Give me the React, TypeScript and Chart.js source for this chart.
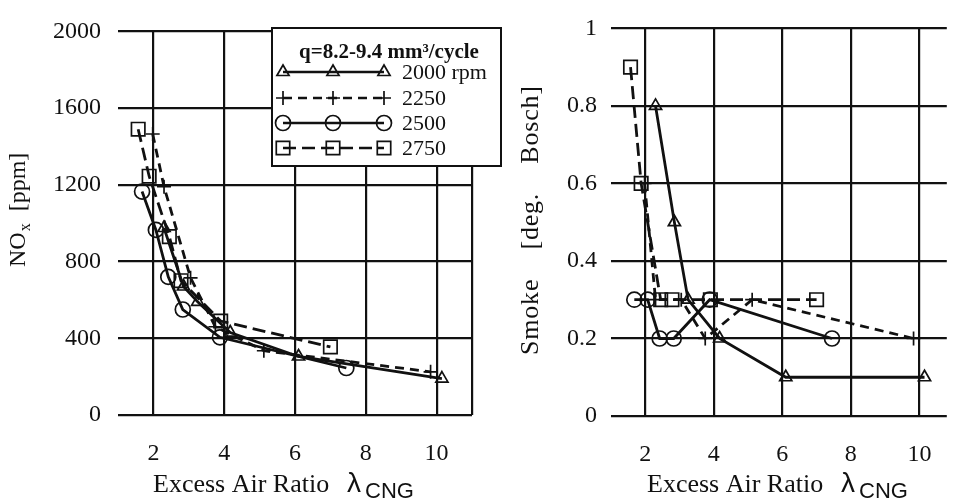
import React, { useEffect, useRef } from 'react';
import { Chart, registerables } from 'chart.js';

Chart.register(...registerables);

// ---------- data ----------
const xTickValues = [2, 4, 6, 8, 10];
const noxTickValues = [0, 400, 800, 1200, 1600, 2000];
const smokeTickValues = [0, 0.2, 0.4, 0.6, 0.8, 1];

const seriesLabels = ['2000 rpm', '2250', '2500', '2750'];
const legendTitle = 'q=8.2-9.4 mm³/cycle';
const xTitleMain = 'Excess Air Ratio';
const xTitleSymbol = 'λ';
const xTitleSub = 'CNG';
const noxTitleMain = 'NO';
const noxTitleSub = 'x';
const noxTitleUnit = '[ppm]';
const smokeTitle = 'Smoke    [deg.    Bosch]';

const lambda2000 = [2.3, 2.85, 3.25, 4.17, 6.1, 10.15];
const nox2000 = [975, 670, 590, 430, 305, 190];
const smoke2000 = [0.8, 0.5, 0.3, 0.2, 0.1, 0.1];

const lambda2250 = [1.98, 2.3, 3.05, 3.75, 5.12, 9.83];
const nox2250 = [1465, 1190, 715, 460, 335, 225];
const smoke2250 = [0.6, 0.3, 0.3, 0.2, 0.3, 0.2];

const lambda2500 = [1.68, 2.07, 2.42, 2.83, 3.88, 7.45];
const nox2500 = [1165, 965, 720, 550, 405, 245];
const smoke2500 = [0.3, 0.3, 0.2, 0.2, 0.3, 0.2];

const lambda2750 = [1.57, 1.88, 2.45, 2.78, 3.9, 7.0];
const nox2750 = [1490, 1245, 930, 700, 490, 355];
const smoke2750 = [0.9, 0.6, 0.3, 0.3, 0.3, 0.3];

const lambdas = [lambda2000, lambda2250, lambda2500, lambda2750];
const noxValues = [nox2000, nox2250, nox2500, nox2750];
const smokeValues = [smoke2000, smoke2250, smoke2500, smoke2750];

// ---------- styles ----------
const SERIF = '"Liberation Serif", "Times New Roman", serif';
const SANS = '"Liberation Sans", Arial, sans-serif';
const INK = '#111';

const seriesStyles = [
  { pointStyle: 'triangle', r: 7, dash: [] as number[] },
  { pointStyle: 'cross', r: 7, dash: [9, 6] },
  { pointStyle: 'circle', r: 7.5, dash: [] as number[] },
  { pointStyle: 'rect', r: 9.5, dash: [13, 6] },
];

function buildDatasets(yValues: number[][]) {
  return yValues.map((ys, si) => ({
    label: seriesLabels[si],
    data: lambdas[si].map((x, i) => ({ x, y: ys[i] })),
    borderColor: INK,
    borderWidth: 2.8,
    borderDash: seriesStyles[si].dash,
    pointStyle: seriesStyles[si].pointStyle as any,
    pointRadius: seriesStyles[si].r,
    pointBorderWidth: 1.7,
    pointBorderColor: INK,
    pointBackgroundColor: 'rgba(255,255,255,0)',
    fill: false,
    tension: 0,
  }));
}

function drawMarker(ctx: CanvasRenderingContext2D, style: string, x: number, y: number, r: number) {
  ctx.beginPath();
  if (style === 'triangle') {
    ctx.moveTo(x, y - r);
    ctx.lineTo(x + 0.866 * r, y + 0.5 * r);
    ctx.lineTo(x - 0.866 * r, y + 0.5 * r);
    ctx.closePath();
  } else if (style === 'cross') {
    ctx.moveTo(x, y - r);
    ctx.lineTo(x, y + r);
    ctx.moveTo(x - r, y);
    ctx.lineTo(x + r, y);
  } else if (style === 'circle') {
    ctx.arc(x, y, r, 0, Math.PI * 2);
  } else {
    const s = Math.SQRT1_2 * r;
    ctx.rect(x - s, y - s, 2 * s, 2 * s);
  }
  ctx.stroke();
}

function drawXTitle(ctx: CanvasRenderingContext2D, x0: number) {
  ctx.save();
  ctx.fillStyle = INK;
  ctx.textAlign = 'left';
  ctx.textBaseline = 'alphabetic';
  ctx.font = `26px ${SERIF}`;
  ctx.fillText(xTitleMain, x0, 492);
  ctx.font = `28px ${SANS}`;
  ctx.fillText(xTitleSymbol, x0 + 194, 492);
  ctx.font = `22px ${SANS}`;
  ctx.fillText(xTitleSub, x0 + 212, 498);
  ctx.restore();
}

const leftPlugin = {
  id: 'leftDecor',
  afterDraw(chart: any) {
    const ctx: CanvasRenderingContext2D = chart.ctx;
    drawXTitle(ctx, 153);
    // y title
    ctx.save();
    ctx.fillStyle = INK;
    ctx.translate(25, 267);
    ctx.rotate(-Math.PI / 2);
    ctx.textAlign = 'left';
    ctx.textBaseline = 'alphabetic';
    ctx.font = `24px ${SERIF}`;
    ctx.fillText(noxTitleMain, 0, 0);
    let x = ctx.measureText(noxTitleMain).width + 1;
    ctx.font = `16px ${SERIF}`;
    ctx.fillText(noxTitleSub, x, 5);
    x += ctx.measureText(noxTitleSub).width + 12;
    ctx.font = `24px ${SERIF}`;
    ctx.fillText(noxTitleUnit, x, 0);
    ctx.restore();
    // legend box
    ctx.save();
    ctx.fillStyle = '#fff';
    ctx.fillRect(272, 28, 229, 138);
    ctx.strokeStyle = INK;
    ctx.lineWidth = 2;
    ctx.strokeRect(272, 28, 229, 138);
    ctx.fillStyle = INK;
    ctx.textAlign = 'center';
    ctx.textBaseline = 'middle';
    ctx.font = `bold 21px ${SERIF}`;
    ctx.fillText(legendTitle, 389, 53);
    const rows = [72, 98, 123, 148];
    seriesLabels.forEach((lab, i) => {
      const y = rows[i];
      const st = seriesStyles[i];
      ctx.strokeStyle = INK;
      ctx.lineWidth = 2.6;
      ctx.setLineDash(st.dash);
      ctx.beginPath();
      ctx.moveTo(283, y);
      ctx.lineTo(384, y);
      ctx.stroke();
      ctx.setLineDash([]);
      ctx.lineWidth = 1.7;
      [283, 333, 384].forEach((mx) => drawMarker(ctx, st.pointStyle, mx, y, st.r));
      ctx.fillStyle = INK;
      ctx.textAlign = 'left';
      ctx.font = `22px ${SERIF}`;
      ctx.fillText(lab, 402, y + 1);
    });
    ctx.restore();
  },
};

const rightPlugin = {
  id: 'rightDecor',
  afterDraw(chart: any) {
    const ctx: CanvasRenderingContext2D = chart.ctx;
    drawXTitle(ctx, 142);
    ctx.save();
    ctx.fillStyle = INK;
    ctx.translate(33, 355);
    ctx.rotate(-Math.PI / 2);
    ctx.textAlign = 'left';
    ctx.textBaseline = 'alphabetic';
    ctx.font = `26px ${SERIF}`;
    (ctx as any).letterSpacing = '0.8px';
    ctx.fillText(smokeTitle, 0, 0);
    ctx.restore();
  },
};

function makeOptions(
  yTicks: number[],
  yMax: number,
  xMax: number,
  xTicksAll: number[],
  yWidth: number,
  xHeight: number,
  padRight: number,
  yPad: number,
  fmt: (v: number) => string
): any {
  return {
    animation: false,
    responsive: false,
    maintainAspectRatio: false,
    layout: { padding: { top: 21, right: padRight, left: 0, bottom: 0 } },
    plugins: { legend: { display: false }, tooltip: { enabled: false } },
    scales: {
      x: {
        type: 'linear',
        min: 1,
        max: xMax,
        afterBuildTicks: (axis: any) => {
          axis.ticks = xTicksAll.map((v) => ({ value: v }));
        },
        afterFit: (s: any) => {
          s.height = xHeight;
        },
        ticks: {
          autoSkip: false,
          maxRotation: 0,
          padding: 24,
          color: INK,
          font: { family: SERIF, size: 24 },
          callback: (v: number) => (xTickValues.includes(v) ? String(v) : ''),
        },
        grid: { color: INK, lineWidth: 2.2, drawTicks: false },
        border: { display: false },
      },
      y: {
        type: 'linear',
        min: 0,
        max: yMax,
        afterBuildTicks: (axis: any) => {
          axis.ticks = yTicks.map((v) => ({ value: v }));
        },
        afterFit: (s: any) => {
          s.width = yWidth;
        },
        ticks: {
          autoSkip: false,
          padding: yPad,
          color: INK,
          font: { family: SERIF, size: 24 },
          callback: (v: number) => fmt(v),
        },
        grid: { color: INK, lineWidth: 2.2, drawTicks: false },
        border: { display: false },
      },
    },
  };
}

export default function App() {
  const leftRef = useRef<HTMLCanvasElement>(null);
  const rightRef = useRef<HTMLCanvasElement>(null);

  useEffect(() => {
    const left = new Chart(leftRef.current as HTMLCanvasElement, {
      type: 'line',
      data: { datasets: buildDatasets(noxValues) as any },
      options: makeOptions(noxTickValues, 2000, 11, [...xTickValues, 11], 118, 87, 33, 17, (v) => String(v)),
      plugins: [leftPlugin],
    });
    const right = new Chart(rightRef.current as HTMLCanvasElement, {
      type: 'line',
      data: { datasets: buildDatasets(smokeValues) as any },
      options: makeOptions(smokeTickValues, 1, 10.8, xTickValues, 106, 86, 1, 14, (v) =>
        v === 0 || v === 1 ? String(v) : v.toFixed(1)
      ),
      plugins: [rightPlugin],
    });
    return () => {
      left.destroy();
      right.destroy();
    };
  }, []);

  return (
    <div style={{ position: 'fixed', left: 0, top: 0, width: 958, height: 502, background: '#fff' }}>
      <canvas ref={leftRef} width={505} height={502} style={{ position: 'absolute', left: 0, top: 0, width: 505, height: 502 }} />
      <canvas ref={rightRef} width={453} height={502} style={{ position: 'absolute', left: 505, top: 0, width: 453, height: 502 }} />
    </div>
  );
}
